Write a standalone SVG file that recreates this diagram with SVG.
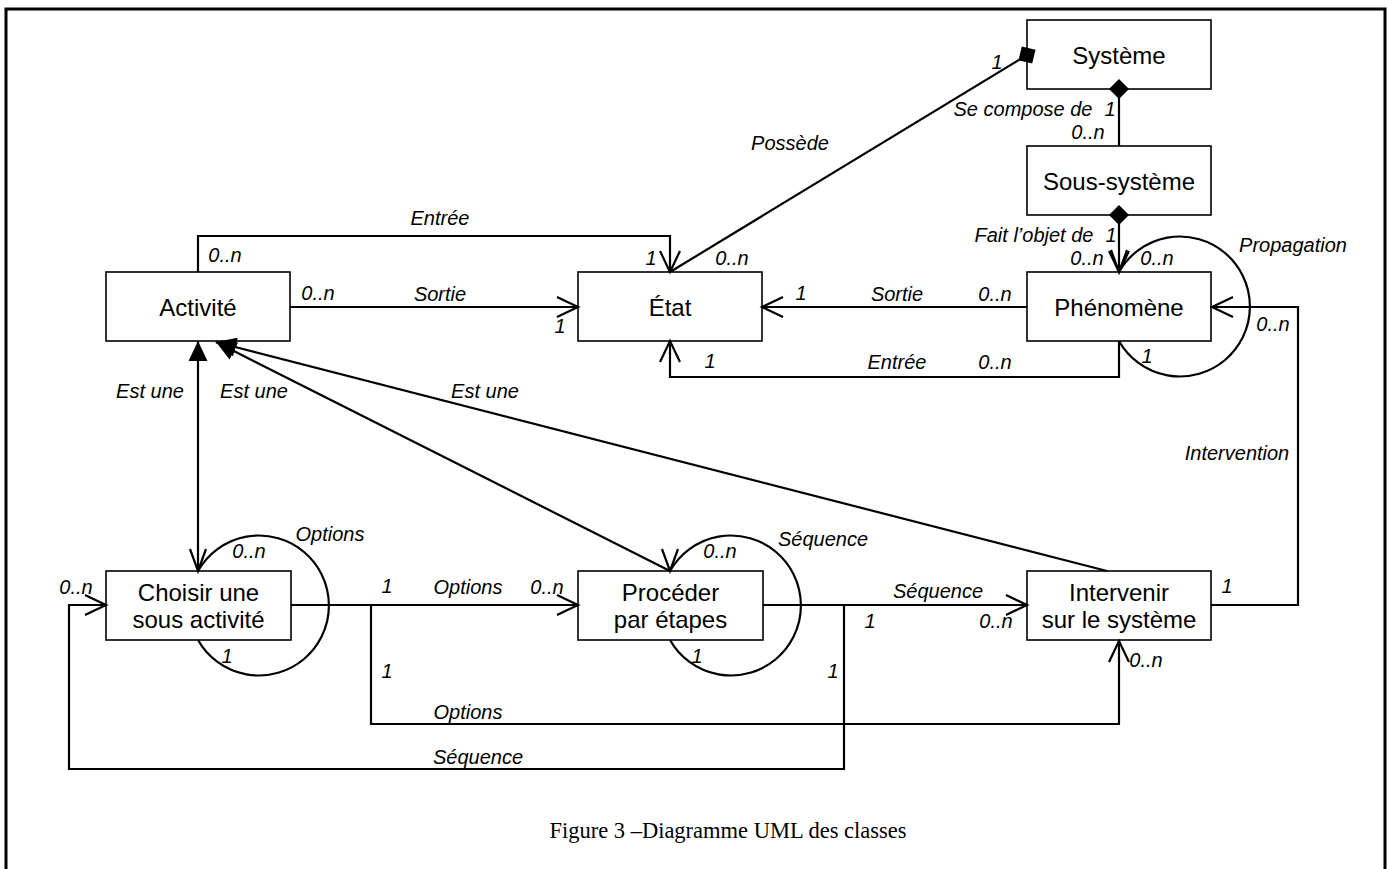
<svg xmlns="http://www.w3.org/2000/svg" width="1387" height="869" viewBox="0 0 1387 869">
<style>
.box{fill:#fff;stroke:#000;stroke-width:1.6}
.nt{font-family:"Liberation Sans",Arial,sans-serif;font-size:24px;text-anchor:middle;fill:#000}
.lb{font-family:"Liberation Sans",Arial,sans-serif;font-size:20px;font-style:italic;text-anchor:middle;fill:#000}
.cn{fill:none;stroke:#000;stroke-width:2.2}
.cap{font-family:"Liberation Serif","Times New Roman",serif;font-size:22.5px;text-anchor:middle;fill:#000}
</style>
<defs>
<marker id="open" markerUnits="userSpaceOnUse" orient="auto" refX="0" refY="0" markerWidth="30" markerHeight="30" overflow="visible"><path d="M -21 -10 L 0 0 L -21 10" fill="none" stroke="#000" stroke-width="2.2"/></marker>
<marker id="vdown" markerUnits="userSpaceOnUse" orient="90" refX="0" refY="0" markerWidth="30" markerHeight="30" overflow="visible"><path d="M -22 -8 L 0 0 L -22 8" fill="none" stroke="#000" stroke-width="2.2"/></marker>
<marker id="dia" markerUnits="userSpaceOnUse" orient="auto" refX="0" refY="0" markerWidth="30" markerHeight="30" overflow="visible"><path d="M -10 0 L 0 -10 L 10 0 L 0 10 Z" fill="#000"/></marker>
<marker id="tri" markerUnits="userSpaceOnUse" orient="auto" refX="0" refY="0" markerWidth="30" markerHeight="30" overflow="visible"><path d="M 0 0 L -20 -9.5 L -20 9.5 Z" fill="#000"/></marker>
</defs>
<rect width="1387" height="869" fill="#fff"/>
<rect x="6" y="9" width="1379" height="900" fill="none" stroke="#000" stroke-width="3"/>

<g id="systeme"><rect class="box" x="1027" y="20" width="184" height="69"/><text class="nt" x="1119" y="63.5">Système</text></g>
<g id="sous-systeme"><rect class="box" x="1027" y="146" width="184" height="69"/><text class="nt" x="1119" y="189.5">Sous-système</text></g>
<g id="activite"><rect class="box" x="106" y="272" width="184" height="69"/><text class="nt" x="198" y="316">Activité</text></g>
<g id="etat"><rect class="box" x="578" y="272" width="184" height="69"/><text class="nt" x="670" y="316">État</text></g>
<g id="phenomene"><rect class="box" x="1027" y="272" width="184" height="69"/><text class="nt" x="1119" y="316">Phénomène</text></g>
<g id="choisir"><rect class="box" x="106" y="571" width="185" height="69"/><text class="nt" x="198.5" y="601">Choisir une</text><text class="nt" x="198.5" y="628">sous activité</text></g>
<g id="proceder"><rect class="box" x="578" y="571" width="185" height="69"/><text class="nt" x="670.5" y="601">Procéder</text><text class="nt" x="670.5" y="628">par étapes</text></g>
<g id="intervenir"><rect class="box" x="1027" y="571" width="184" height="69"/><text class="nt" x="1119" y="601">Intervenir</text><text class="nt" x="1119" y="628">sur le système</text></g>

<g id="connectors">
<path class="cn" d="M 670 272 L 1027 55" marker-end="url(#dia)"/>
<path class="cn" d="M 1119 146 L 1119 89" marker-end="url(#dia)"/>
<path class="cn" d="M 1119 215 L 1119 272" marker-start="url(#dia)" marker-end="url(#open)"/>
<path class="cn" d="M 1119 272 A 70 70 0 1 1 1119 341" marker-start="url(#vdown)"/>
<path class="cn" d="M 198 272 L 198 236 L 670 236 L 670 272" marker-end="url(#open)"/>
<path class="cn" d="M 290 307 L 578 307" marker-end="url(#open)"/>
<path class="cn" d="M 1027 307 L 762 307" marker-end="url(#open)"/>
<path class="cn" d="M 1119 341 L 1119 377 L 670 377 L 670 341" marker-end="url(#open)"/>
<path class="cn" d="M 1211 605 L 1298 605 L 1298 307 L 1212 307" marker-end="url(#open)"/>
<path class="cn" d="M 198 571 L 198 341" marker-end="url(#tri)"/>
<path class="cn" d="M 670 571 L 216 342" marker-end="url(#tri)"/>
<path class="cn" d="M 1107 571 L 216 342" marker-end="url(#tri)"/>
<path class="cn" d="M 198 571 A 70 70 0 1 1 198 640" marker-start="url(#vdown)"/>
<path class="cn" d="M 670 571 A 70 70 0 1 1 670 640" marker-start="url(#vdown)"/>
<path class="cn" d="M 291 605 L 578 605" marker-end="url(#open)"/>
<path class="cn" d="M 371 605 L 371 724 L 1119 724 L 1119 641" marker-end="url(#open)"/>
<path class="cn" d="M 763 605 L 1027 605" marker-end="url(#open)"/>
<path class="cn" d="M 844 605 L 844 769 L 69 769 L 69 605 L 106 605" marker-end="url(#open)"/>
</g>

<g id="labels">
<text class="lb" x="997" y="69">1</text>
<text class="lb" x="790" y="150">Possède</text>
<text class="lb" x="1023" y="116">Se compose de</text>
<text class="lb" x="1110" y="116">1</text>
<text class="lb" x="1088" y="139">0..n</text>
<text class="lb" x="1034" y="242">Fait l’objet de</text>
<text class="lb" x="1111" y="242">1</text>
<text class="lb" x="1087" y="265">0..n</text>
<text class="lb" x="1157" y="265">0..n</text>
<text class="lb" x="1293" y="252">Propagation</text>
<text class="lb" x="1273" y="331">0..n</text>
<text class="lb" x="1147" y="363">1</text>
<text class="lb" x="995" y="301">0..n</text>
<text class="lb" x="897" y="301">Sortie</text>
<text class="lb" x="801" y="300">1</text>
<text class="lb" x="995" y="369">0..n</text>
<text class="lb" x="897" y="369">Entrée</text>
<text class="lb" x="710" y="368">1</text>
<text class="lb" x="440" y="225">Entrée</text>
<text class="lb" x="225" y="262">0..n</text>
<text class="lb" x="651" y="265">1</text>
<text class="lb" x="732" y="265">0..n</text>
<text class="lb" x="318" y="300">0..n</text>
<text class="lb" x="440" y="301">Sortie</text>
<text class="lb" x="560" y="333">1</text>
<text class="lb" x="150" y="398">Est une</text>
<text class="lb" x="254" y="398">Est une</text>
<text class="lb" x="485" y="398">Est une</text>
<text class="lb" x="1237" y="460">Intervention</text>
<text class="lb" x="1227" y="593">1</text>
<text class="lb" x="330" y="541">Options</text>
<text class="lb" x="249" y="558">0..n</text>
<text class="lb" x="227" y="663">1</text>
<text class="lb" x="76" y="594">0..n</text>
<text class="lb" x="387" y="593">1</text>
<text class="lb" x="468" y="594">Options</text>
<text class="lb" x="547" y="594">0..n</text>
<text class="lb" x="387" y="678">1</text>
<text class="lb" x="468" y="719">Options</text>
<text class="lb" x="478" y="764">Séquence</text>
<text class="lb" x="823" y="546">Séquence</text>
<text class="lb" x="720" y="558">0..n</text>
<text class="lb" x="697" y="663">1</text>
<text class="lb" x="938" y="598">Séquence</text>
<text class="lb" x="870" y="628">1</text>
<text class="lb" x="996" y="628">0..n</text>
<text class="lb" x="833" y="678">1</text>
<text class="lb" x="1146" y="667">0..n</text>
</g>

<text class="cap" x="728" y="838">Figure 3 –Diagramme UML des classes</text>
</svg>
